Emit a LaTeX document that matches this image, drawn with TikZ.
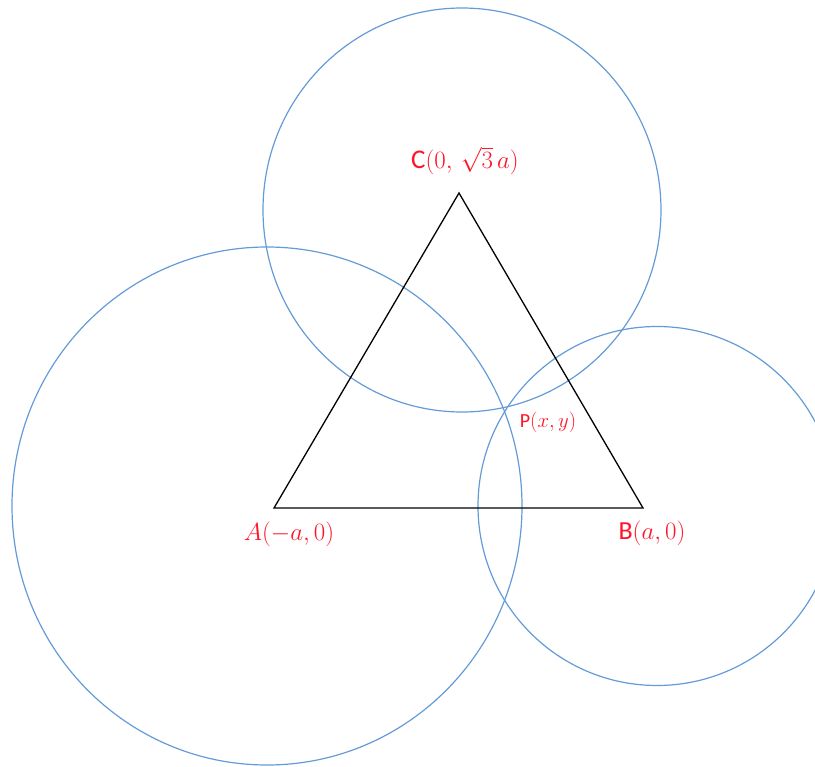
\documentclass[tikz,border=0pt]{standalone}
\usepackage{fontspec}
\newfontfamily\carl{Carlito}
\definecolor{cblue}{RGB}{100,155,215}
\definecolor{lred}{RGB}{255,20,40}
\begin{document}
\begin{tikzpicture}[x=1pt,y=-1pt,
  circ/.style={draw=cblue,line width=1.2pt},
  tri/.style={draw=black,line width=1.3pt,line join=miter},
  lab/.style={text=lred,inner sep=0pt}]
\useasboundingbox (0,0) rectangle (815,767);
\begin{scope}
\clip (0,0) rectangle (815,767);
\coordinate (A) at (274,508);
\coordinate (B) at (643,508);
\coordinate (C) at (459,193);
\coordinate (OA) at (267,506);
\coordinate (OB) at (657,506);
\coordinate (OC) at (462,210);
\draw[circ] (OA) ellipse [x radius=255, y radius=259];
\draw[circ] (OC) ellipse [x radius=199, y radius=202];
\draw[circ] (OB) ellipse [x radius=179, y radius=179.5];
\draw[tri] (A) -- (B) -- (C) -- cycle;
\end{scope}
\node[lab,font=\fontsize{27}{31}\selectfont] (lc) at (465,161) {{\carl C}$(0,\,\sqrt{3}\,a)$};
\node[lab,font=\fontsize{20}{24}\selectfont] (lp) at (548,422) {{\carl P}$(x,y)$};
\node[lab,font=\fontsize{26}{30}\selectfont] (la) at (289,534) {$A(-a,0)$};
\node[lab,font=\fontsize{26}{30}\selectfont] (lb) at (652,533) {{\carl B}$(a,0)$};
\end{tikzpicture}
\end{document}
